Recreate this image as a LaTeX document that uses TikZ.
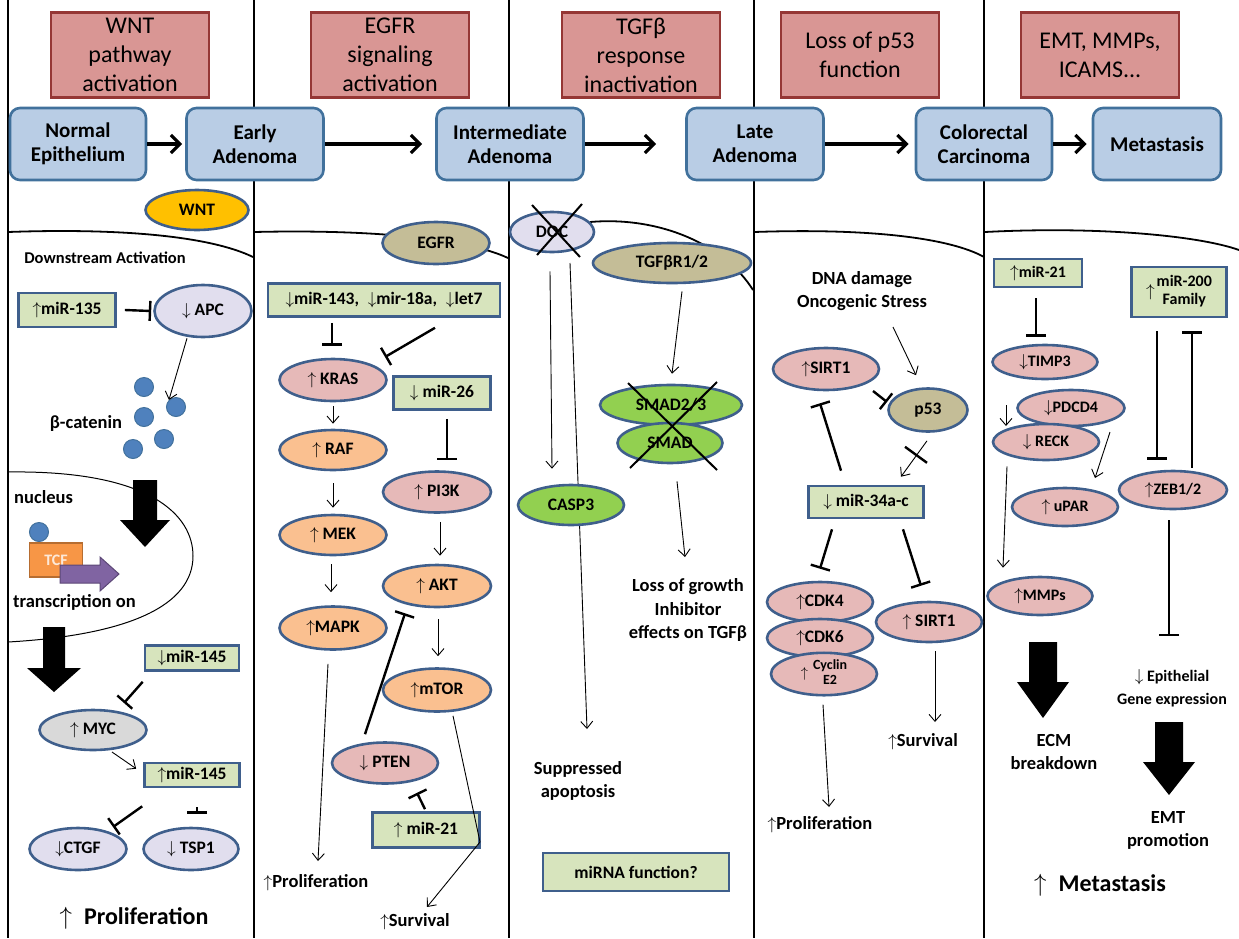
\documentclass[tikz,border=0pt]{standalone}
\usepackage{fontspec}
\setmainfont{Carlito}
\usetikzlibrary{arrows.meta,shapes.geometric,calc,backgrounds}

\definecolor{hdrfill}{HTML}{D99694}
\definecolor{hdrbd}{HTML}{953735}
\definecolor{stfill}{HTML}{B9CDE5}
\definecolor{stbd}{HTML}{41719C}
\definecolor{molbd}{HTML}{3F5F8C}
\definecolor{mirfill}{HTML}{D7E4BD}
\definecolor{pinkfill}{HTML}{E6B9B8}
\definecolor{orgfill}{HTML}{FAC090}
\definecolor{lavfill}{HTML}{E1DEEE}
\definecolor{tanfill}{HTML}{C4BD97}
\definecolor{grayfill}{HTML}{D9D9D9}
\definecolor{grnfill}{HTML}{92D050}
\definecolor{wntfill}{HTML}{FFC000}
\definecolor{dotfill}{HTML}{4F81BD}
\definecolor{tcffill}{HTML}{F79646}
\definecolor{tcfbd}{HTML}{B66D31}
\definecolor{tcftxt}{HTML}{FDE9D9}
\definecolor{purfill}{HTML}{8064A2}
\definecolor{purbd}{HTML}{5C4776}

\newcommand{\arUp}{$\big\uparrow$}
\newcommand{\arDn}{$\big\downarrow$}
% x, top, neck, tip, shaft half width, head half width
\newcommand{\fatarrow}[6]{\fill[black] (#1-#5,#2) -- (#1+#5,#2) -- (#1+#5,#3) -- (#1+#6,#3) -- (#1,#4) -- (#1-#6,#3) -- (#1-#5,#3) -- cycle;}

\begin{document}
\begin{tikzpicture}[x=1pt,y=-1pt]
\tikzset{colline/.style={line width=2pt}}
\tikzset{memb/.style={line width=1.8pt}}
\tikzset{hdr/.style={draw=hdrbd,fill=hdrfill,line width=2.2pt,inner sep=0pt,minimum width=158pt,minimum height=85pt,align=center,font=\fontsize{24}{29}\selectfont}}
\tikzset{stage/.style={draw=stbd,fill=stfill,line width=2.6pt,rounded corners=10pt,inner sep=0pt,minimum height=72pt,align=center,font=\fontsize{21}{24}\selectfont\bfseries}}
\tikzset{mol/.style={ellipse,draw=molbd,line width=2.6pt,inner sep=0pt,minimum width=106pt,minimum height=41pt,font=\fontsize{17.5}{20}\selectfont\bfseries}}
\tikzset{mir/.style={draw=molbd,fill=mirfill,line width=2.6pt,inner sep=0pt,font=\fontsize{17.5}{20}\selectfont\bfseries}}
\tikzset{txt/.style={inner sep=0pt,align=center,font=\fontsize{18.5}{23}\selectfont\bfseries}}
\tikzset{big/.style={inner sep=0pt,font=\fontsize{24}{28}\selectfont\bfseries}}
\tikzset{catdot/.style={circle,draw=stbd,fill=dotfill,line width=1pt,minimum size=19pt,inner sep=0pt}}
\tikzset{act/.style={-{Straight Barb[length=7pt,width=12pt]},line width=0.9pt}}
\tikzset{inh/.style={-{Bar[width=20pt]},line width=2.4pt}}
\tikzset{flow/.style={-{Straight Barb[length=9pt,width=18pt]},line width=3.2pt}}
\tikzset{xmark/.style={line width=2pt}}

\useasboundingbox (0,0) rectangle (1239,938);

% column lines and membranes
\foreach \x in {8,254,509,754,984} \draw[colline] (\x,0) -- (\x,938);
\draw[memb] (8,232) .. controls (120,228) and (210,236) .. (253,257);
\draw[memb] (254,232) .. controls (380,229) and (470,240) .. (508,258);
\draw[memb] (590,222) .. controls (660,216) and (725,245) .. (753,290);
\draw[memb] (754,232) .. controls (870,228) and (950,238) .. (984,257);
\draw[memb] (985,232) .. controls (1100,226) and (1200,236) .. (1239,250);
% nucleus
\draw[line width=1pt] (8,472) .. controls (150,470) and (193,515) .. (193,556) .. controls (193,605) and (130,635) .. (8,642);

% headers
\node[hdr] (hwnt) at (130,55) {WNT\\pathway\\activation};
\node[hdr] (hegfr) at (390,55) {EGFR\\signaling\\activation};
\node[hdr] (htgf) at (641,55) {TGFβ\\response\\inactivation};
\node[hdr] (hp53) at (860,55) {Loss of p53\\function};
\node[hdr] (hemt) at (1100,55) {EMT, MMPs,\\ICAMS...};

% stages
\node[stage,minimum width=136pt] (s1) at (78,144) {Normal\\Epithelium};
\node[stage,minimum width=137pt] (s2) at (255,144) {Early\\Adenoma};
\node[stage,minimum width=147pt] (s3) at (510,144) {Intermediate\\Adenoma};
\node[stage,minimum width=137pt] (s4) at (755,144) {Late\\Adenoma};
\node[stage,minimum width=136pt] (s5) at (984,144) {Colorectal\\Carcinoma};
\node[stage,minimum width=128pt] (s6) at (1157,144) {Metastasis};
\draw[flow,shorten >=3pt] (s1.east) -- (s2.west);
\draw[flow,shorten >=13pt] (s2.east) -- (s3.west);
\draw[flow,shorten >=29pt] (s3.east) -- (s4.west);
\draw[flow,shorten >=6pt] (s4.east) -- (s5.west);
\draw[flow,shorten >=5pt] (s5.east) -- (s6.west);

% WNT column
\node[mol,fill=wntfill,minimum width=103pt,minimum height=40pt] (wnt) at (197,210) {WNT};
\node[txt,font=\fontsize{16.5}{20}\selectfont\bfseries] (dsact) at (105,258) {Downstream Activation};
\node[mir,minimum width=97pt,minimum height=34pt] (mir135) at (67,310) {\arUp miR-135};
\node[mol,fill=lavfill,minimum width=97pt,minimum height=52pt] (apc) at (203,311) {\arDn\ APC};
\foreach \x/\y [count=\i] in {144/387,176/407,144/417,164/439,133/449}
  \node[catdot] (cat\i) at (\x,\y) {};
\node[txt] (catlbl) at (86,423) {β-catenin};
\node[txt,anchor=west] (nuclbl) at (14,497) {nucleus};
\fatarrow{145}{480}{520}{547}{12}{25}
\node[catdot] (nucdot) at (39,532) {};
\node[draw=tcfbd,fill=tcffill,line width=1.5pt,minimum width=53pt,minimum height=34pt,inner sep=0pt,text=tcftxt,font=\fontsize{16}{18}\selectfont\bfseries] (tcf) at (56,560) {TCF};
\fill[purfill,draw=purbd,line width=1pt] (60,565) -- (100,565) -- (100,557) -- (119,574) -- (100,591) -- (100,583) -- (60,583) -- cycle;
\node[txt,anchor=west] (txon) at (13,602) {transcription on};
\fatarrow{54}{627}{668}{692}{11}{27}
\node[mir,minimum width=94pt,minimum height=25pt] (mir145a) at (192,658) {\arDn miR-145};
\node[mol,fill=grayfill,minimum width=107pt,minimum height=40pt] (myc) at (93,730) {\arUp\ MYC};
\node[mir,minimum width=95pt,minimum height=24pt] (mir145b) at (192,775) {\arUp miR-145};
\node[mol,fill=lavfill,minimum width=97pt,minimum height=42pt] (ctgf) at (78,849) {\arDn CTGF};
\node[mol,fill=lavfill,minimum width=95pt,minimum height=42pt] (tsp1) at (191,849) {\arDn\ TSP1};
\node[big] (prolif1) at (134,918) {\arUp\enspace Proliferation};
\draw[inh] ($(mir135.east)+(8,0)$) -- ($(apc.west)+(-2,0)$);
\draw[act] ($(apc.south)+(-16,0)$) -- (cat2.north west);
\draw[inh] ($(mir145a.south west)+(-1,10)$) -- ($(myc)+(31,-27)$);
\draw[act] ($(myc)+(19,22)$) -- ($(mir145b.north west)+(-7,7)$);
\draw[inh] ($(mir145b.south west)+(-1,18)$) -- ($(ctgf)+(35,-22)$);
\draw[inh] ($(mir145b.south)+(5,19)$) -- ($(tsp1.north)+(6,-13)$);

% EGFR column
\node[mol,fill=tanfill,minimum width=107pt,minimum height=42pt] (egfr) at (436,243) {EGFR};
\node[mir,minimum width=232pt,minimum height=33pt] (mirlet) at (384,300) {\arDn miR-143,\enspace\arDn mir-18a,\enspace\arDn let7};
\node[mol,fill=pinkfill,minimum width=107pt,minimum height=42pt] (kras) at (333,380) {\arUp\ KRAS};
\node[mir,minimum width=97pt,minimum height=33pt] (mir26) at (442,393) {\arDn\ miR-26};
\node[mol,fill=orgfill,minimum width=107pt,minimum height=40pt] (raf) at (333,450) {\arUp\ RAF};
\node[mol,fill=pinkfill,minimum width=108pt,minimum height=41pt] (pi3k) at (437,492) {\arUp\ PI3K};
\node[mol,fill=orgfill,minimum width=107pt,minimum height=40pt] (mek) at (333,535) {\arUp\ MEK};
\node[mol,fill=orgfill,minimum width=108pt,minimum height=42pt] (akt) at (437,586) {\arUp\ AKT};
\node[mol,fill=orgfill,minimum width=107pt,minimum height=43pt] (mapk) at (333,628) {\arUp MAPK};
\node[mol,fill=orgfill,minimum width=108pt,minimum height=43pt] (mtor) at (437,690) {\arUp mTOR};
\node[mol,fill=pinkfill,minimum width=106pt,minimum height=41pt] (pten) at (385,763) {\arDn\ PTEN};
\node[mir,minimum width=107pt,minimum height=35pt] (mir21a) at (426,830) {\arUp\ miR-21};
\node[txt] (prolif2) at (316,883) {\arUp Proliferation};
\node[txt] (surv2) at (415,922) {\arUp Survival};
\draw[inh] ($(mirlet.south)+(-52,5)$) -- ($(kras.north)+(-1,-12)$);
\draw[inh] ($(mirlet.south)+(51,10)$) -- ($(kras)+(52,-23)$);
\draw[act] ($(kras.south)+(0,4)$) -- ($(raf.north)+(0,-5)$);
\draw[inh] ($(mir26.south)+(5,8)$) -- ($(pi3k.north)+(10,-10)$);
\draw[act] ($(raf.south)+(0,12)$) -- ($(mek.north)+(0,-6)$);
\draw[act] ($(pi3k.south)+(3,8)$) -- ($(akt.north)+(3,-8)$);
\draw[act] ($(mek.south)+(-2,8)$) -- ($(mapk.north)+(-2,-13)$);
\draw[act] ($(akt.south)+(1,11)$) -- ($(mtor.north)+(1,-11)$);
\draw[inh] ($(pten.north)+(-20,-7)$) -- ($(akt.south)+(-32,5)$);
\draw[inh] ($(mir21a.north)+(-1,-2)$) -- ($(pten.south)+(32,8)$);
\draw[act] ($(mapk.south)+(-5,13)$) -- ($(prolif2)+(2,-22)$);
\draw[act] ($(mtor.south)+(16,3)$) -- (480,842) -- ($(surv2)+(12,-15)$);

% TGFb column
\node[txt] (supp) at (578,781) {Suppressed\\apoptosis};
\begin{scope}[on background layer]
\draw[act] (570,263) -- ($(supp)+(9,-52)$);
\end{scope}
\node[mol,fill=lavfill,minimum width=84pt,minimum height=40pt] (doc) at (552,232) {DOC};
\draw[xmark] ($(doc)+(-20,-27)$) -- ($(doc)+(28,25)$);
\draw[xmark] ($(doc)+(30,-28)$) -- ($(doc)+(-15,23)$);
\node[mol,fill=tanfill,minimum width=158pt,minimum height=40pt] (tgfr) at (672,263) {TGFβR1/2};
\node[mol,fill=grnfill,minimum width=106pt,minimum height=40pt] (casp3) at (571,505) {CASP3};
\node[mol,fill=grnfill,minimum width=142pt,minimum height=40pt] (smad23) at (671,405) {SMAD2/3};
\node[mol,fill=grnfill,minimum width=105pt,minimum height=40pt] (smad) at (670,443) {SMAD};
\draw[xmark] ($(smad23)+(-43,-22)$) -- ($(smad)+(47,27)$);
\draw[xmark] ($(smad23)+(46,-23)$) -- ($(smad)+(-40,25)$);
\node[txt,font=\fontsize{18.5}{23.5}\selectfont\bfseries] (losstxt) at (688,610) {Loss of growth\\Inhibitor\\effects on TGFβ};
\node[mir,minimum width=186pt,minimum height=38pt] (mirfn) at (636,872) {miRNA function?};
\draw[act] ($(doc.south)+(-2,18)$) -- ($(casp3.north)+(-19,-15)$);
\draw[act] ($(tgfr.south)+(10,7)$) -- ($(smad23.north)+(1,-10)$);
\draw[act] ($(smad.south)+(7,17)$) -- ($(losstxt)+(-3,-53)$);

% p53 column
\node[txt] (dna) at (862,291) {DNA damage\\Oncogenic Stress};
\node[mol,fill=pinkfill,minimum width=106pt,minimum height=42pt] (sirt1a) at (826,369) {\arUp SIRT1};
\node[mol,fill=tanfill,minimum width=79pt,minimum height=43pt] (p53) at (928,410) {p53};
\node[mir,minimum width=115pt,minimum height=32pt] (mir34) at (866,502) {\arDn\ miR-34a-c};
\node[mol,fill=pinkfill,minimum width=106pt,minimum height=40pt] (cdk4) at (820,602) {\arUp CDK4};
\node[mol,fill=pinkfill,minimum width=106pt,minimum height=38pt] (cdk6) at (820,638) {\arUp CDK6};
\node[mol,fill=pinkfill,minimum width=106pt,minimum height=42pt,font=\fontsize{14}{15}\selectfont\bfseries] (cyc) at (824,674) {\arUp\hspace{5pt}\begin{tabular}{@{}c@{}}Cyclin\\E2\end{tabular}};
\node[mol,fill=pinkfill,minimum width=106pt,minimum height=40pt] (sirt1b) at (929,622) {\arUp\ SIRT1};
\node[txt] (prolif4) at (820,825) {\arUp Proliferation};
\node[txt] (surv4) at (923,742) {\arUp Survival};
\draw[act] ($(dna)+(31,36)$) -- ($(p53.north)+(-12,-12)$);
\draw[inh] ($(sirt1a)+(47,22)$) -- ($(p53)+(-41,-8)$);
\draw[act] ($(p53.south)+(-1,8)$) -- ($(mir34.north)+(35,-8)$);
\draw[inh,-] ($(p53.south)+(-23,14)$) -- ($(p53.south)+(-1,30)$);
\draw[inh] ($(mir34.north)+(-25,-14)$) -- ($(sirt1a.south)+(-6,12)$);
\draw[inh] ($(mir34.south)+(-34,10)$) -- ($(cdk4.north)+(0,-12)$);
\draw[inh] ($(mir34.south)+(37,10)$) -- ($(sirt1b.north)+(-8,-15)$);
\draw[act] ($(cyc.south)+(-1,8)$) -- ($(prolif4)+(9,-18)$);
\draw[act] ($(sirt1b.south)+(6,8)$) -- ($(surv4)+(12,-20)$);

% EMT column
\node[mir,minimum width=88pt,minimum height=28pt,font=\fontsize{16}{18}\selectfont\bfseries] (mir21b) at (1038,273) {\arUp miR-21};
\node[mir,minimum width=95pt,minimum height=50pt,font=\fontsize{16}{18}\selectfont\bfseries] (mir200) at (1179,292) {{\fontsize{19}{19}\selectfont\arUp}\hspace{2pt}\begin{tabular}{@{}c@{}}miR-200\\Family\end{tabular}};
\node[mol,fill=pinkfill,minimum width=105pt,minimum height=34pt,font=\fontsize{16}{18}\selectfont\bfseries] (timp3) at (1045,362) {\arDn TIMP3};
\node[mol,fill=pinkfill,minimum width=107pt,minimum height=36pt,font=\fontsize{16}{18}\selectfont\bfseries] (pdcd4) at (1071,408) {\arDn PDCD4};
\node[mol,fill=pinkfill,minimum width=106pt,minimum height=36pt,font=\fontsize{16}{18}\selectfont\bfseries] (reck) at (1046,442) {\arDn\ RECK};
\node[mol,fill=pinkfill,minimum width=106pt,minimum height=38pt,font=\fontsize{16}{18}\selectfont\bfseries] (upar) at (1065,507) {\arUp\ uPAR};
\node[mol,fill=pinkfill,minimum width=105pt,minimum height=38pt,font=\fontsize{16}{18}\selectfont\bfseries] (mmps) at (1040,596) {\arUp MMPs};
\node[mol,fill=pinkfill,minimum width=108pt,minimum height=38pt,font=\fontsize{16}{18}\selectfont\bfseries] (zeb) at (1173,490) {\arUp ZEB1/2};
\fatarrow{1043}{642}{682}{718}{14}{26}
\node[txt] (ecm) at (1054,752) {ECM\\breakdown};
\node[txt,font=\fontsize{16}{23}\selectfont\bfseries] (epi) at (1172,688) {\arDn\ Epithelial\\Gene expression};
\fatarrow{1169}{722}{762}{795}{14}{26}
\node[txt] (emt) at (1168,830) {EMT\\promotion};
\node[big] (meta) at (1100,885) {\arUp\enspace Metastasis};
\draw[inh] ($(mir21b.south)+(-2,10)$) -- ($(timp3.north)+(-9,-7)$);
\draw[act] ($(reck)+(-40,-37)$) -- ($(reck)+(-40,-16)$);
\draw[act] ($(pdcd4)+(39,24)$) -- ($(upar)+(30,-29)$);
\draw[act] ($(reck.south)+(-39,5)$) -- ($(mmps.north)+(-37,-8)$);
\draw[inh] ($(mir200.south)+(-22,13)$) -- ($(zeb.north)+(-16,-10)$);
\draw[inh] ($(zeb.north)+(19,-2)$) -- ($(mir200.south)+(13,13)$);
\draw[inh] ($(zeb.south)+(-4,10)$) -- ($(epi)+(-3,-52)$);
\end{tikzpicture}
\end{document}
